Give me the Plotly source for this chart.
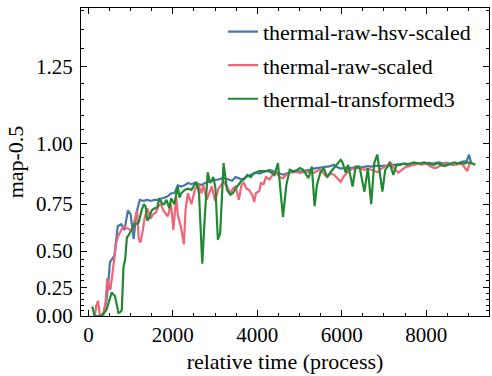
import numpy as np
import plotly.graph_objects as go

# ---- data ----
blue_x = [108, 229, 350, 430, 470, 511, 615, 695, 776, 856, 936, 1000, 1073, 1130, 1217, 1300, 1400, 1475, 1560, 1640,
          1717, 1796, 1876, 1958, 2037, 2117, 2198, 2278, 2358, 2440, 2520, 2600, 2681, 2760, 2840, 2922, 3002, 3080,
          3160, 3243, 3320, 3404, 3484, 3565, 3645, 3725, 3805, 3886, 3966, 4047, 4127, 4207, 4288, 4368, 4448, 4528,
          4609, 4689, 4770, 4850, 4931, 5010, 5090, 5172, 5252, 5333, 5413, 5493, 5574, 5654, 5734, 5815, 5895, 5975,
          6057, 6136, 6217, 6297, 6377, 6457, 6538, 6618, 6698, 6779, 6859, 6939, 7020, 7100, 7180, 7261, 7341, 7422,
          7503, 7583, 7663, 7744, 7824, 7904, 7985, 8065, 8145, 8226, 8306, 8387, 8467, 8547, 8628, 8708, 8788, 8868,
          8960, 9013, 9070]
blue_y = [0.0, 0.0, 0.02, 0.15, 0.28, 0.43, 0.47, 0.64, 0.65, 0.62, 0.72, 0.70, 0.57, 0.70, 0.77, 0.765, 0.77, 0.765,
          0.77, 0.77, 0.775, 0.78, 0.785, 0.80, 0.80, 0.835, 0.83, 0.835, 0.845, 0.84, 0.845, 0.84, 0.837, 0.845, 0.85,
          0.855, 0.858, 0.86, 0.865, 0.865, 0.86, 0.855, 0.87, 0.865, 0.86, 0.87, 0.875, 0.88, 0.888, 0.885, 0.89,
          0.895, 0.90, 0.895, 0.89, 0.885, 0.88, 0.885, 0.89, 0.89, 0.895, 0.893, 0.895, 0.90, 0.90, 0.905, 0.907,
          0.91, 0.913, 0.913, 0.915, 0.92, 0.91, 0.905, 0.907, 0.91, 0.907, 0.91, 0.907, 0.91, 0.913, 0.915, 0.913,
          0.915, 0.917, 0.915, 0.917, 0.915, 0.92, 0.92, 0.922, 0.925, 0.925, 0.923, 0.925, 0.927, 0.925, 0.927,
          0.925, 0.928, 0.925, 0.927, 0.93, 0.925, 0.928, 0.925, 0.92, 0.923, 0.928, 0.933, 0.935, 0.96, 0.925]

red_x = [100, 150, 188, 229, 270, 350, 400, 446, 520, 600, 660, 711, 791, 832, 912, 1000, 1032, 1097, 1153, 1193,
         1234, 1290, 1330, 1394, 1475, 1530, 1596, 1660, 1717, 1776, 1813, 1876, 1920, 1957, 2013, 2078, 2117, 2198,
         2262, 2300, 2358, 2400, 2440, 2520, 2600, 2680, 2720, 2800, 2860, 2922, 3002, 3080, 3160, 3202, 3283, 3363,
         3420, 3484, 3564, 3630, 3684, 3745, 3805, 3886, 3926, 3966, 4047, 4087, 4150, 4207, 4288, 4368, 4448, 4530,
         4609, 4690, 4770, 4851, 4931, 5010, 5090, 5172, 5252, 5333, 5413, 5493, 5574, 5654, 5734, 5815, 5895, 5975,
         6057, 6136, 6217, 6297, 6377, 6457, 6538, 6618, 6698, 6779, 6859, 6939, 7020, 7100, 7141, 7221, 7300, 7341,
         7422, 7503, 7583, 7663, 7744, 7824, 7904, 7985, 8065, 8145, 8226, 8306, 8387, 8467, 8547, 8628, 8708, 8788,
         8868, 8949, 8972, 9030, 9110]
red_y = [0.0, 0.0, 0.10, 0.14, 0.01, 0.0, 0.10, 0.32, 0.23, 0.45, 0.55, 0.59, 0.62, 0.64, 0.63, 0.62, 0.61, 0.67,
         0.72, 0.57, 0.55, 0.62, 0.68, 0.73, 0.68, 0.70, 0.71, 0.74, 0.75, 0.72, 0.71, 0.69, 0.72, 0.75, 0.62, 0.785,
         0.70, 0.63, 0.54, 0.72, 0.80, 0.77, 0.75, 0.815, 0.84, 0.80, 0.837, 0.77, 0.80, 0.83, 0.765, 0.82, 0.84,
         0.85, 0.83, 0.80, 0.82, 0.83, 0.77, 0.84, 0.845, 0.82, 0.815, 0.79, 0.76, 0.80, 0.81, 0.845, 0.84, 0.87,
         0.86, 0.88, 0.888, 0.87, 0.865, 0.88, 0.89, 0.895, 0.89, 0.888, 0.89, 0.893, 0.89, 0.888, 0.895, 0.90,
         0.885, 0.87, 0.885, 0.88, 0.865, 0.85, 0.875, 0.89, 0.90, 0.905, 0.913, 0.905, 0.90, 0.905, 0.90, 0.895,
         0.89, 0.905, 0.913, 0.92, 0.933, 0.91, 0.895, 0.888, 0.90, 0.91, 0.915, 0.918, 0.92, 0.925, 0.92, 0.925,
         0.918, 0.91, 0.907, 0.915, 0.92, 0.927, 0.922, 0.925, 0.92, 0.925, 0.92, 0.90, 0.895, 0.925, 0.927]

green_x = [92, 149, 230, 310, 430, 500, 550, 631, 680, 711, 760, 791, 832, 872, 912, 952, 993, 1032, 1073, 1113,
           1193, 1260, 1314, 1354, 1394, 1435, 1500, 1560, 1596, 1640, 1676, 1756, 1796, 1850, 1917, 1958, 2037,
           2117, 2158, 2200, 2278, 2358, 2440, 2500, 2560, 2620, 2697, 2760, 2826, 2881, 2961, 3010, 3066, 3120,
           3202, 3283, 3363, 3420, 3484, 3605, 3685, 3766, 3846, 3926, 3966, 4047, 4127, 4248, 4328, 4408, 4489,
           4552, 4609, 4689, 4769, 4850, 4890, 4950, 5010, 5090, 5150, 5212, 5292, 5357, 5413, 5493, 5574, 5654,
           5734, 5854, 5975, 6016, 6096, 6150, 6257, 6330, 6420, 6538, 6618, 6698, 6770, 6843, 6899, 6963, 7030,
           7141, 7221, 7300, 7382, 7463, 7543, 7624, 7704, 7784, 7865, 7945, 8025, 8105, 8186, 8266, 8346, 8427,
           8507, 8588, 8668, 8748, 8828, 8909, 8990, 9070, 9166]
green_y = [0.09, 0.0, 0.0, 0.0, 0.06, 0.15, 0.21, 0.18, 0.08, 0.03, 0.04, 0.06, 0.40, 0.45, 0.58, 0.59, 0.61, 0.62,
           0.65, 0.65, 0.66, 0.72, 0.75, 0.74, 0.67, 0.68, 0.72, 0.73, 0.73, 0.74, 0.778, 0.75, 0.75, 0.77, 0.73,
           0.777, 0.75, 0.83, 0.78, 0.80, 0.815, 0.82, 0.815, 0.83, 0.85, 0.80, 0.42, 0.70, 0.89, 0.845, 0.87, 0.82,
           0.566, 0.60, 0.927, 0.815, 0.793, 0.80, 0.82, 0.85, 0.86, 0.879, 0.87, 0.888, 0.888, 0.895, 0.895, 0.895,
           0.89, 0.879, 0.927, 0.82, 0.687, 0.837, 0.90, 0.895, 0.895, 0.90, 0.907, 0.90, 0.88, 0.865, 0.913, 0.74,
           0.837, 0.888, 0.907, 0.87, 0.89, 0.913, 0.94, 0.93, 0.888, 0.92, 0.83, 0.913, 0.913, 0.807, 0.907, 0.75,
           0.927, 0.96, 0.90, 0.807, 0.90, 0.927, 0.879, 0.92, 0.92, 0.925, 0.92, 0.925, 0.93, 0.927, 0.925, 0.93,
           0.925, 0.923, 0.92, 0.927, 0.92, 0.915, 0.92, 0.925, 0.93, 0.925, 0.928, 0.925, 0.93, 0.927, 0.92]

series_names = ["thermal-raw-hsv-scaled", "thermal-raw-scaled", "thermal-transformed3"]
series_colors = ["#4477AA", "#EE6677", "#228833"]

y_major = [0.0, 0.25, 0.5, 0.75, 1.0, 1.25]
y_major_labels = ["0.00", "0.25", "0.50", "0.75", "1.00", "1.25"]
y_minor = [round(0.05 * i, 2) for i in range(0, 29)]
x_major = [0, 2000, 4000, 6000, 8000]
x_range = [-175, 9488]
y_top = 1.405

# The reference uses an exponential ("function") y scale: emulate it by mapping values through exp
fwd = np.exp

font = "Liberation Serif"
fs_tick = 21
fs_text = 22
fig = go.Figure()
for xs, ys, name, col, grp in zip([blue_x, red_x, green_x], [blue_y, red_y, green_y],
                                  series_names, series_colors, ["a", "b", "c"]):
    fig.add_trace(go.Scatter(x=xs, y=fwd(np.array(ys)), mode="lines", name=name,
                             legendgroup=grp, line=dict(color=col, width=2.2)))

axis_common = dict(showgrid=False, zeroline=False, showline=True, linecolor="black", linewidth=1.2,
                   mirror="ticks", ticks="inside", ticklen=6, tickwidth=1, tickcolor="black",
                   tickfont=dict(family=font, size=fs_tick, color="black"))

fig.update_xaxes(range=x_range, tickvals=x_major, ticktext=[str(v) for v in x_major],
                 minor=dict(dtick=500, tick0=0, ticks="inside", ticklen=3, tickcolor="black", tickwidth=1),
                 title=dict(text="relative time (process)", font=dict(family=font, size=fs_text, color="black"),
                            standoff=7),
                 **axis_common)
fig.update_yaxes(range=[1.0, float(np.exp(y_top))], tickmode="array",
                 tickvals=list(fwd(np.array(y_major))), ticktext=y_major_labels,
                 minor=dict(tickmode="array", tickvals=list(fwd(np.array(y_minor))), ticks="inside",
                            ticklen=3, tickcolor="black", tickwidth=1),
                 ticklabelstandoff=3,
                 title=dict(text="map-0.5", font=dict(family=font, size=fs_text, color="black"), standoff=6),
                 **axis_common)

fig.update_layout(
    width=492, height=376,
    margin=dict(l=81, r=3, t=8, b=60),
    plot_bgcolor="white", paper_bgcolor="white",
    font=dict(family=font, size=fs_text, color="black"),
    legend=dict(x=0.348, xanchor="left", y=0.991, yanchor="top", bgcolor="rgba(0,0,0,0)",
                font=dict(family=font, size=fs_text, color="black"), tracegroupgap=2),
    showlegend=True,
)

fig.write_html("out.html")
